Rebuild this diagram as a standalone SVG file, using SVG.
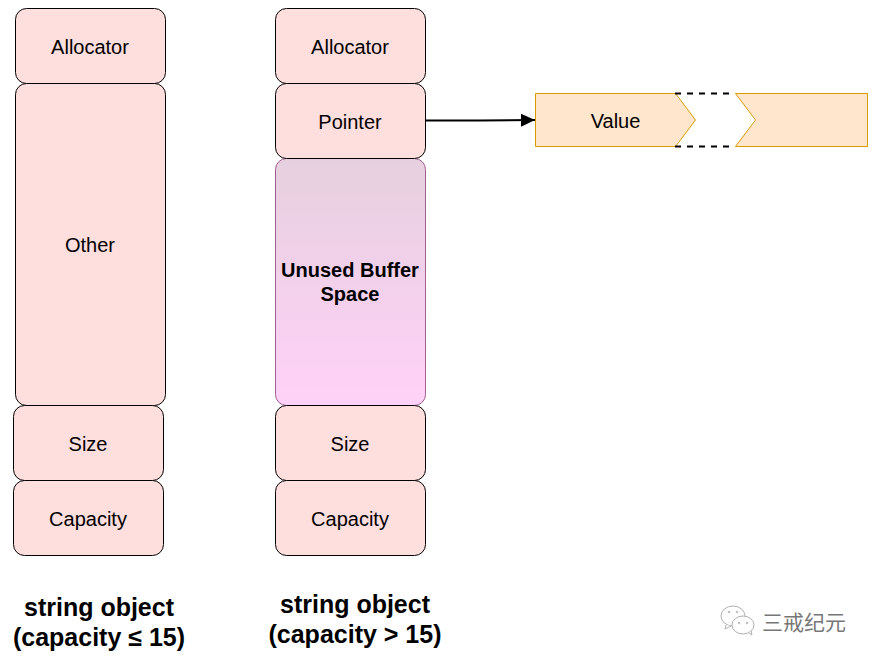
<svg xmlns="http://www.w3.org/2000/svg" width="874" height="661" viewBox="0 0 874 661">
<style>
text{font-family:"Liberation Sans",Arial,"Noto Sans CJK SC",sans-serif;text-anchor:middle;fill:#000}
.n{font-size:20px}
.b{font-size:20px;font-weight:bold}
.t{font-size:25px;font-weight:bold}
.box{fill:#ffdede;stroke:#000;stroke-width:1}
.v{fill:#ffe6cc;stroke:#d79b00;stroke-width:1}
.d{fill:none;stroke:#000;stroke-width:2;stroke-dasharray:6 6}
</style>
<defs>
<linearGradient id="g" x1="0" y1="0" x2="0" y2="1"><stop offset="0" stop-color="#e6d0de"/><stop offset="1" stop-color="#ffd1f8"/></linearGradient>
<marker id="a" markerUnits="userSpaceOnUse" markerWidth="14" markerHeight="14" refX="14" refY="7" orient="auto"><path d="M0 0.500L14 7L0 13.500Z" fill="#000"/></marker>
</defs>
<rect width="874" height="661" fill="#fff"/>
<g id="left-allocator"><rect class="box" x="15.500" y="8.500" width="150" height="75" rx="11"/><text class="n" x="90" y="54">Allocator</text></g>
<g id="left-other"><rect class="box" x="15.500" y="83.500" width="150" height="322" rx="11"/><text class="n" x="90" y="252">Other</text></g>
<g id="left-size"><rect class="box" x="13.500" y="405.500" width="150" height="75" rx="11"/><text class="n" x="88" y="451">Size</text></g>
<g id="left-capacity"><rect class="box" x="13.500" y="480.500" width="150" height="75" rx="11"/><text class="n" x="88" y="526">Capacity</text></g>
<g id="right-allocator"><rect class="box" x="275.500" y="8.500" width="150" height="75" rx="11"/><text class="n" x="350" y="54">Allocator</text></g>
<g id="right-unused"><rect x="275.500" y="158.500" width="150" height="247" rx="11" fill="url(#g)" stroke="#9f5f8f"/><text class="b" x="350" y="277">Unused Buffer</text><text class="b" x="350" y="301">Space</text></g>
<g id="right-pointer"><rect class="box" x="275.500" y="83.500" width="150" height="75" rx="11"/><text class="n" x="350" y="129">Pointer</text></g>
<g id="right-size"><rect class="box" x="275.500" y="405.500" width="150" height="75" rx="11"/><text class="n" x="350" y="451">Size</text></g>
<g id="right-capacity"><rect class="box" x="275.500" y="480.500" width="150" height="75" rx="11"/><text class="n" x="350" y="526">Capacity</text></g>
<g id="value"><path class="v" d="M535.500 93.500H675.500L695.500 120L675.500 146.500H535.500Z"/><path class="v" d="M735.500 93.500H867.500V146.500H735.500L755.500 120Z"/><path class="d" d="M675 93.500H731M675 146.500H731"/><text class="n" x="615.500" y="128">Value</text></g>
<g id="connectors"><path d="M426 120.500H480L535 120" fill="none" stroke="#000" stroke-width="2" marker-end="url(#a)"/></g>
<g id="captions"><text class="t" x="99" y="616">string object</text><text class="t" x="99" y="646">(capacity ≤ 15)</text><text class="t" x="355" y="613">string object</text><text class="t" x="355" y="643">(capacity &gt; 15)</text></g>
<g id="watermark" fill="#fff" stroke="#b0b0b0" stroke-width="1"><ellipse cx="733" cy="616" rx="12" ry="10"/><path d="M726 625L725 629L731 626"/><ellipse cx="743" cy="625" rx="11" ry="9"/><path d="M749 633L752 635L751 631"/><circle cx="729" cy="612" r="0.800"/><circle cx="737" cy="612" r="0.800"/><circle cx="739" cy="623" r="0.800"/><circle cx="747" cy="623" r="0.800"/><text x="804" y="630" style="font-size:21px;fill:#777;stroke:none">三戒纪元</text></g>
</svg>
